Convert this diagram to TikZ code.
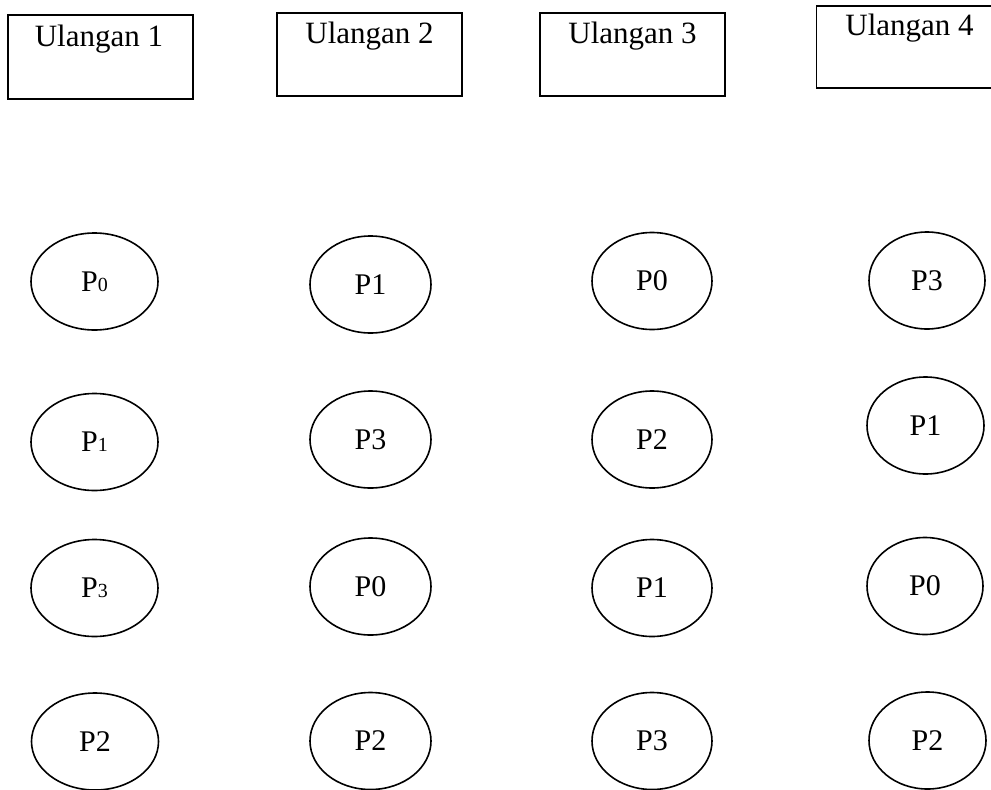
\documentclass[tikz,border=0pt]{standalone}
\usepackage{fontspec}
\setmainfont{Liberation Serif}
\usetikzlibrary{shapes.geometric}
\tikzset{
  repbox/.style={draw, line width=1.6pt, rectangle, inner sep=0pt},
  reptext/.style={anchor=base, inner sep=0pt, font=\fontsize{31}{36}\selectfont},
  plot/.style={draw, line width=1.6pt, ellipse, inner sep=0pt, minimum width=#1, minimum height=97pt, font=\fontsize{30}{36}\selectfont},
  plot/.default=121pt
}
\newcommand{\smalldig}[1]{{\fontsize{20}{24}\selectfont #1}}
\begin{document}
\begin{tikzpicture}[x=1pt,y=-1pt]
\useasboundingbox (0,0) rectangle (991,790);
\clip (0,0) rectangle (991,790);
% boxes
\node[repbox, minimum width=185pt, minimum height=84pt] (b1) at (100.5,57) {};
\node[repbox, minimum width=185pt, minimum height=83pt] (b2) at (369.5,54.5) {};
\node[repbox, minimum width=185pt, minimum height=83pt] (b3) at (632.5,54.5) {};
\node[repbox, minimum width=185pt, minimum height=82pt] (b4) at (909,47) {};
\node[reptext] (t1) at (99,46) {Ulangan 1};
\node[reptext] (t2) at (369.5,43) {Ulangan 2};
\node[reptext] (t3) at (632.5,43) {Ulangan 3};
\node[reptext] (t4) at (909.5,35) {Ulangan 4};
% column 1
\node[plot=127pt] (a1) at (94.5,281.5) {P\smalldig{0}};
\node[plot=127pt] (a2) at (94.5,442) {P\smalldig{1}};
\node[plot=127pt] (a3) at (94.5,588) {P\smalldig{3}};
\node[plot=127pt] (a4) at (95,741.5) {P2};
% column 2
\node[plot] (c1) at (370.5,284.5) {P1};
\node[plot] (c2) at (370.5,439.5) {P3};
\node[plot] (c3) at (370.5,586.5) {P0};
\node[plot] (c4) at (370.5,741) {P2};
% column 3
\node[plot=120pt] (d1) at (652,281) {P0};
\node[plot=120pt] (d2) at (652,439.5) {P2};
\node[plot=120pt] (d3) at (652,588) {P1};
\node[plot=120pt] (d4) at (652,741) {P3};
% column 4
\node[plot=116pt] (e1) at (927,280.5) {P3};
\node[plot=117pt] (e2) at (925.5,425.5) {P1};
\node[plot=116pt] (e3) at (925,586) {P0};
\node[plot=117pt] (e4) at (927.5,740.5) {P2};
\end{tikzpicture}
\end{document}
